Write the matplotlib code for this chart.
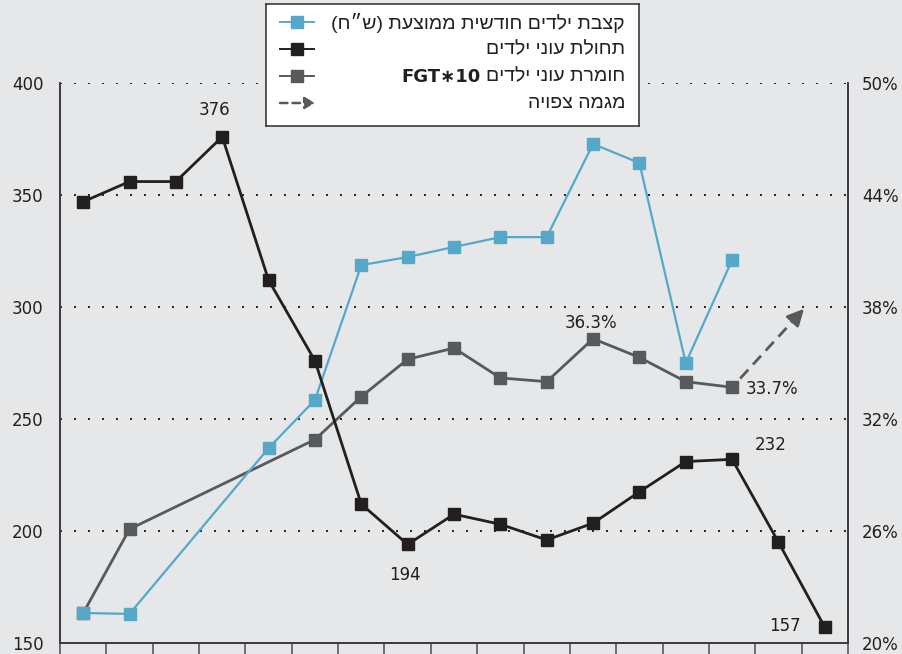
import numpy as np
import matplotlib.pyplot as plt

nan = np.nan

# 17 periods, no tick labels on the x axis
periods = np.arange(17)

# monthly child allowance (NIS), left axis
allowance = [163.4, 163.0, nan, nan, 237.0, 258.5, 318.7, 322.3, 326.8, 331.2,
             331.2, 372.8, 364.3, 275.0, 321.0, nan, nan]
# child poverty incidence, left axis
incidence = [347.0, 356.0, 356.0, 376.0, 312.0, 276.0, 212.0, 194.0, 207.5,
             203.0, 196.0, 203.5, 217.5, 231.0, 232.0, 195.0, 157.0]
# child poverty severity FGT*10 (%), right axis
severity = [21.6, 26.1, nan, nan, nan, 30.9, 33.2, 35.2, 35.8, 34.2, 34.0,
            36.3, 35.3, 34.0, 33.7, nan, nan]
# expected trend
trend_x = [14, 15.55]
trend_y = [33.7, 37.9]

left_ticks = [150, 200, 250, 300, 350, 400]
right_ticks = [20, 26, 32, 38, 44, 50]

legend_labels = ['קצבת ילדים חודשית ממוצעת (ש״ח)', 'תחולת עוני ילדים',
                 'חומרת עוני ילדים', 'מגמה צפויה']
legend_latin = ['', '', 'FGT∗10', '']

BG = '#e6e7e8'
BLUE = '#56a8c9'
BLACK = '#231f20'
GRAY = '#58595b'
TXT = '#231f20'
HEB = ['Liberation Sans', 'DejaVu Sans']


def rtl(s):
    # crude visual ordering for hebrew text (matplotlib has no bidi)
    mirror = {'(': ')', ')': '('}
    out = []
    for w in s.split(' ')[::-1]:
        if any('\u0590' <= c <= '\u05ff' for c in w):
            w = ''.join(mirror.get(c, c) for c in w[::-1])
        out.append(w)
    return ' '.join(out)


def valid(y):
    y = np.asarray(y, dtype=float)
    m = ~np.isnan(y)
    return periods[m], y[m]


fig = plt.figure(figsize=(9.02, 6.54), dpi=100, facecolor=BG)
ax = fig.add_axes([60 / 902, 1 - 643 / 654, 788 / 902, 560 / 654])
ax2 = ax.twinx()
# left-axis lines above the right-axis line
ax.set_zorder(ax2.get_zorder() + 1)
ax.patch.set_visible(False)

ax.set_xlim(-0.5, 16.5)
ax.set_ylim(150, 400)
ax2.set_ylim(20, 50)

x, y = valid(allowance)
ax.plot(x, y, color=BLUE, lw=1.6, marker='s', ms=9, zorder=3)
x, y = valid(incidence)
ax.plot(x, y, color=BLACK, lw=2.0, marker='s', ms=9, zorder=4)
x, y = valid(severity)
ax2.plot(x, y, color=GRAY, lw=2.0, marker='s', ms=9, zorder=3)

ax2.plot(trend_x[:1] + [trend_x[0] + 0.9 * (trend_x[1] - trend_x[0])],
         trend_y[:1] + [trend_y[0] + 0.9 * (trend_y[1] - trend_y[0])],
         color=GRAY, lw=2.0, ls=(2.5, (4.3, 2.5)))
ax2.annotate('', xy=(trend_x[1], trend_y[1]),
             xytext=(trend_x[0] + 0.85 * (trend_x[1] - trend_x[0]),
                     trend_y[0] + 0.85 * (trend_y[1] - trend_y[0])),
             arrowprops=dict(arrowstyle='-|>,head_length=1.0,head_width=0.5',
                             color=GRAY, lw=2.0, shrinkA=0, shrinkB=0))

# grid: dotted at the left ticks above the bottom
for v in left_ticks[1:]:
    ax2.axhline(20 + (v - 150) * 30 / 250, color=BLACK, lw=1.4,
                ls=(0, (1, 6.2)), zorder=1)

ax.set_yticks(left_ticks)
ax2.set_yticks(right_ticks)
ax2.set_yticklabels([f'{v}%' for v in right_ticks])
ax.set_xticks(np.arange(-0.5, 17, 1))
ax.set_xticklabels([])
ax.tick_params(axis='y', length=0, pad=12, labelsize=12, labelcolor=TXT)
ax2.tick_params(axis='y', length=0, pad=10, labelsize=12, labelcolor=TXT)
ax.tick_params(axis='x', direction='out', length=8, width=1.2, color=GRAY)
ax2.tick_params(axis='x', length=0)

for a in (ax, ax2):
    a.spines['top'].set_visible(False)
    for s in ('left', 'right', 'bottom'):
        a.spines[s].set_color('#3a3a3c')
        a.spines[s].set_linewidth(1.2)

# value labels
lab = dict(textcoords='offset pixels', ha='center', va='center',
           fontsize=12, color=TXT)
ax.annotate('376', (3, incidence[3]), xytext=(-8, 27), **lab)
ax.annotate('194', (7, incidence[7]), xytext=(-3, -31), **lab)
ax.annotate('232', (14, incidence[14]), xytext=(39, 14), **lab)
ax.annotate('157', (16, incidence[16]), xytext=(-40, 1), **lab)
ax2.annotate('36.3%', (11, severity[11]), xytext=(-2, 16), **lab)
ax2.annotate('33.7%', (14, severity[14]), xytext=(40, -2), **lab)

# legend box, drawn by hand so the hebrew text can sit right-aligned
lax = fig.add_axes([266 / 902, 1 - 126 / 654, 373 / 902, 122 / 654])
lax.set_zorder(5)
lax.set_xlim(0, 373)
lax.set_ylim(122, 0)
lax.set_facecolor('white')
lax.set_xticks([])
lax.set_yticks([])
for s in lax.spines.values():
    s.set_color('#3a3a3c')
    s.set_linewidth(1.2)

rows = [18, 45, 72, 99]
hx = [14, 48]
for r, c in zip(rows[:3], [BLUE, BLACK, GRAY]):
    lax.plot(hx, [r] * 2, color=c, lw=1.4)
    lax.plot([31], [r], color=c, marker='s', ms=8)
lax.annotate('', xy=(49, rows[3]), xytext=(14, rows[3]),
             arrowprops=dict(arrowstyle='-|>,head_length=0.6,head_width=0.35',
                             color=GRAY, lw=1.8, ls=(0, (3, 2)),
                             shrinkA=0, shrinkB=0))
heb_texts = []
for r, t in zip(rows, legend_labels):
    heb_texts.append(lax.text(359, r + 1, rtl(t), ha='right', va='center',
                              fontsize=14, color=TXT, family=HEB))

fig.canvas.draw()
inv = lax.transData.inverted()
for t, lt, r in zip(heb_texts, legend_latin, rows):
    if lt:
        x0 = inv.transform(t.get_window_extent().p0)[0]
        lax.text(x0 - 5, r + 1, lt, ha='right', va='center', fontsize=13,
                 fontweight='bold', color=TXT, family='DejaVu Sans')

fig.savefig('out.png', dpi=100, facecolor=BG)
